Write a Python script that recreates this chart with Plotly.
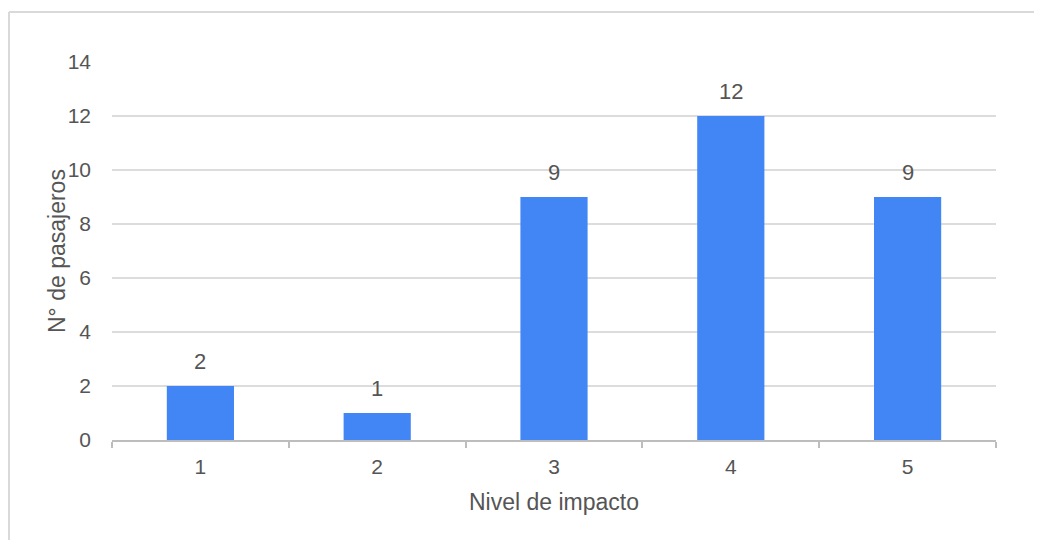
import plotly.graph_objects as go

categories = ["1", "2", "3", "4", "5"]
values = [2, 1, 9, 12, 9]
y_ticks = [0, 2, 4, 6, 8, 10, 12, 14]

# page has an 8px body margin, so the figure is 8px smaller than the window
W, H = 1026, 532
ML, MR, MT, MB = 104, 38, 54, 100
pw, ph = W - ML - MR, H - MT - MB

FONT = "Liberation Sans, Arial, sans-serif"
TXT = "#555555"

fig = go.Figure()
fig.add_trace(go.Bar(
    x=list(range(len(categories))), y=values,
    marker=dict(color="#4285F4", line=dict(color="white", width=0)),
    width=0.38,
    hoverinfo="y",
))

for i, v in enumerate(values):
    fig.add_annotation(x=i, y=v, text=str(v), showarrow=False,
                       yanchor="bottom", yshift=10,
                       font=dict(family=FONT, size=22, color=TXT))

def px_x(p):
    return (p - ML) / pw

def px_y(p):
    return (H - MB - p) / ph

border = dict(color="#d9d9d9", width=2)
fig.add_shape(type="line", xref="paper", yref="paper",
              x0=px_x(1), x1=px_x(W + 2), y0=px_y(4), y1=px_y(4), line=border)
fig.add_shape(type="line", xref="paper", yref="paper",
              x0=px_x(1), x1=px_x(1), y0=px_y(4), y1=px_y(H + 2), line=border)

# y-axis title as annotation for exact placement
fig.add_annotation(xref="paper", yref="paper", x=px_x(49), y=0.5,
                   text="N° de pasajeros", textangle=-90, showarrow=False,
                   xanchor="center", yanchor="middle",
                   font=dict(family=FONT, size=23, color=TXT))

fig.update_layout(
    width=W, height=H,
    margin=dict(l=ML, r=MR, t=MT, b=MB, autoexpand=False),
    paper_bgcolor="white", plot_bgcolor="white",
    font=dict(family=FONT, size=21, color=TXT),
    showlegend=False,
)
fig.update_xaxes(
    range=[-0.5, len(categories) - 0.5],
    tickvals=list(range(len(categories))), ticktext=categories,
    showline=True, linecolor="#bdbdbd", linewidth=2,
    ticks="", ticklabelstandoff=7,
    showgrid=False, zeroline=False,
    title=dict(text="Nivel de impacto", standoff=17, font=dict(size=23, color=TXT)),
    tickfont=dict(size=21, color=TXT),
    minor=dict(tickvals=[i - 0.5 for i in range(len(categories) + 1)],
               ticks="outside", ticklen=6, tickcolor="#bdbdbd", tickwidth=2, showgrid=False),
)
fig.update_yaxes(
    range=[0, 14], tickvals=y_ticks,
    showgrid=True, gridcolor="#dcdcdc", gridwidth=1.5,
    zeroline=False, showline=False,
    ticks="", ticklabelstandoff=20,
    tickfont=dict(size=21, color=TXT),
)

fig.write_html("out.html")
